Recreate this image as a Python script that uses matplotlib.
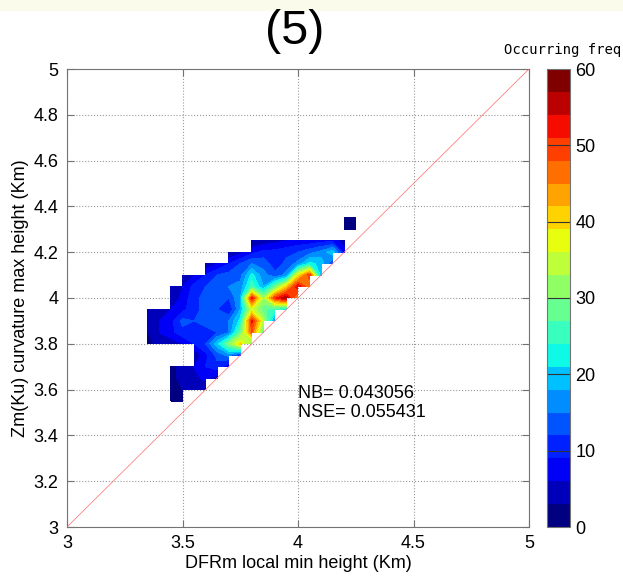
import numpy as np
import matplotlib
matplotlib.use("Agg")
import matplotlib.pyplot as plt
from matplotlib.colors import ListedColormap
from matplotlib.patches import Rectangle
from matplotlib.ticker import FormatStrFormatter

plt.rcParams['font.family'] = ['Liberation Sans', 'DejaVu Sans']

# grid of bin centres (Km)
x_grid = [3.35, 3.40, 3.45, 3.50, 3.55, 3.60, 3.65, 3.70, 3.75, 3.80,
          3.85, 3.90, 3.95, 4.00, 4.05, 4.10, 4.15, 4.20, 4.25]
# each row: y value, x of first non-empty bin, occurrence counts from there on
row_y = [4.35, 4.30, 4.25, 4.20, 4.15, 4.10, 4.05, 4.00, 3.95,
         3.90, 3.85, 3.80, 3.75, 3.70, 3.65, 3.60, 3.55]
row_x0 = [4.20, 4.20, 3.80, 3.70, 3.60, 3.50, 3.45, 3.45, 3.35,
          3.35, 3.35, 3.35, 3.55, 3.45, 3.45, 3.45, 3.45]
row_vals = [
    [3, 3],
    [3, 3],
    [3, 4, 5, 6, 7, 7, 8, 8, 4],
    [3, 5, 8, 10, 10, 11, 12, 14, 16, 20, 8],
    [3, 6, 9, 12, 15, 14, 10, 13, 16, 22, 20, 12],
    [3, 6, 9, 12, 13, 14, 22, 16, 13, 16, 38, 50, 18],
    [3, 6, 10, 12, 14, 15, 16, 26, 18, 28, 40, 54, 45],
    [3, 7, 11, 13, 14, 12, 18, 52, 32, 50, 57, 42],
    [3, 4, 6, 8, 11, 13, 12, 9, 18, 36, 28, 24, 22],
    [3, 6, 8, 13, 12, 13, 14, 15, 22, 52, 34, 15],
    [3, 6, 8, 11, 12, 11, 12, 15, 28, 48, 26],
    [2, 4, 4, 6, 9, 12, 20, 30, 40, 28],
    [3, 8, 13, 16, 10],
    [2, 4, 6, 9, 11, 6],
    [2, 4, 5, 7, 4],
    [2, 3, 4, 3],
    [2, 2],
]

nb_text = 'NB= 0.043056'
nse_text = 'NSE= 0.055431'

# build the masked count grid
Z = np.full((len(row_y), len(x_grid)), np.nan)
for r, (x0, vals) in enumerate(zip(row_x0, row_vals)):
    c0 = int(round((x0 - x_grid[0]) / 0.05))
    Z[r, c0:c0 + len(vals)] = vals
Z = np.ma.masked_invalid(Z[::-1])
y_grid = row_y[::-1]
X, Y = np.meshgrid(x_grid, y_grid)

jet = plt.get_cmap('jet')
cmap = ListedColormap([jet(k / 19.0) for k in range(20)])
levels = np.arange(0, 61, 3)

fig = plt.figure(figsize=(6.23, 5.83), dpi=100)
fig.patches.append(Rectangle((0, 573 / 583), 1, 10 / 583, transform=fig.transFigure,
                             color='#fbfbec', zorder=0))

ax = fig.add_axes([67 / 623, 56 / 583, 462 / 623, 458 / 583])
cs = ax.contourf(X, Y, Z, levels=levels, cmap=cmap, vmin=0, vmax=60, corner_mask=False)
ax.plot([3, 5], [3, 5], color='#ff6a6a', lw=0.5, zorder=3)

ax.set_xlim(3, 5)
ax.set_ylim(3, 5)
ax.set_xticks(np.arange(3, 5.01, 0.5))
ax.set_yticks(np.arange(3, 5.01, 0.2))
ax.xaxis.set_major_formatter(FormatStrFormatter('%g'))
ax.yaxis.set_major_formatter(FormatStrFormatter('%g'))
ax.set_axisbelow(True)
ax.grid(True, linestyle=':', color='0.6', lw=0.8)
ax.tick_params(direction='in', length=5, top=True, right=True, labelsize=13,
               color='0.45', pad=6)
for s in ax.spines.values():
    s.set_color('0.45')
    s.set_linewidth(0.8)

ax.set_xlabel('DFRm local min height (Km)', fontsize=13, labelpad=2)
ax.set_ylabel('Zm(Ku) curvature max height (Km)', fontsize=13, labelpad=3)

ax.text(4.0, 3.585, nb_text, fontsize=13, va='center', ha='left')
ax.text(4.0, 3.50, nse_text, fontsize=13, va='center', ha='left')

fig.text(295 / 623, 1 - 31 / 583, '(5)', ha='center', va='center', fontsize=35)

cax = fig.add_axes([547 / 623, 56 / 583, 23 / 623, 458 / 583])
cb = fig.colorbar(cs, cax=cax, ticks=range(0, 61, 10))
cb.outline.set_edgecolor('0.45')
cb.outline.set_linewidth(0.8)
cax.tick_params(length=0, labelsize=13, pad=4)
for v in range(10, 60, 10):
    cax.axhline(v, color='0.2', lw=0.8)
fig.text(0.997, 1 - 50 / 583, 'Occurring freq', ha='right', va='center',
         family='DejaVu Sans Mono', fontsize=10)

fig.savefig('out.png', dpi=100)
